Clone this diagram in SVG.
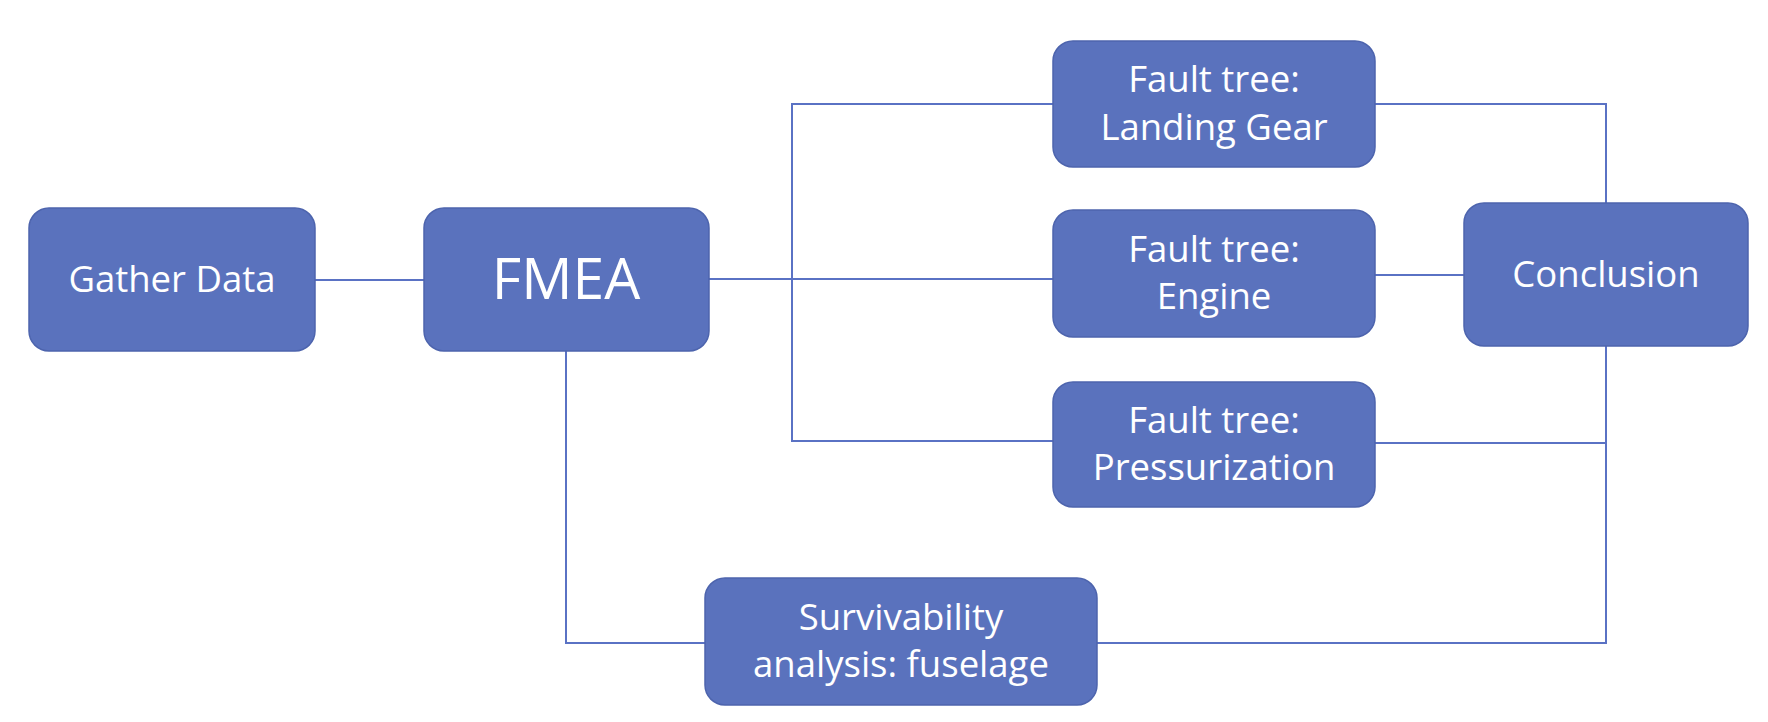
<svg xmlns="http://www.w3.org/2000/svg" width="1768" height="722" viewBox="0 0 1768 722">
<style>
.box{fill:#5a72bd;stroke:#4d64ad;stroke-width:1.5}
.t{font-family:"Open Sans","Liberation Sans",sans-serif;font-size:36.5px;fill:#ffffff;text-anchor:middle}
.big{font-size:57px}
.c{fill:none;stroke:#5a72c4;stroke-width:2}
</style>
<rect width="1768" height="722" fill="#ffffff"/>
<g id="connectors">
<path class="c" d="M315,280 H424"/>
<path class="c" d="M709,279 H1053"/>
<path class="c" d="M1053,104 H792 V441 H1053"/>
<path class="c" d="M1375,104 H1606 V203"/>
<path class="c" d="M1375,275 H1464"/>
<path class="c" d="M1375,443 H1606"/>
<path class="c" d="M1606,346 V643 H1097"/>
<path class="c" d="M566,351 V643 H705"/>
</g>
<g id="gather">
<rect class="box" x="29" y="208" width="286" height="143" rx="20"/>
<text class="t" x="172" y="292">Gather Data</text>
</g>
<g id="fmea">
<rect class="box" x="424" y="208" width="285" height="143" rx="20"/>
<text class="t big" x="566" y="299">FMEA</text>
</g>
<g id="ft-landing">
<rect class="box" x="1053" y="41" width="322" height="126" rx="20"/>
<text class="t" x="1214" y="92">Fault tree:</text>
<text class="t" x="1214" y="140">Landing Gear</text>
</g>
<g id="ft-engine">
<rect class="box" x="1053" y="210" width="322" height="127" rx="20"/>
<text class="t" x="1214" y="262">Fault tree:</text>
<text class="t" x="1214" y="309">Engine</text>
</g>
<g id="ft-pressurization">
<rect class="box" x="1053" y="382" width="322" height="125" rx="20"/>
<text class="t" x="1214" y="433">Fault tree:</text>
<text class="t" x="1214" y="480">Pressurization</text>
</g>
<g id="conclusion">
<rect class="box" x="1464" y="203" width="284" height="143" rx="20"/>
<text class="t" x="1606" y="287">Conclusion</text>
</g>
<g id="survivability">
<rect class="box" x="705" y="578" width="392" height="127" rx="20"/>
<text class="t" x="901" y="630">Survivability</text>
<text class="t" x="901" y="677">analysis: fuselage</text>
</g>
</svg>
